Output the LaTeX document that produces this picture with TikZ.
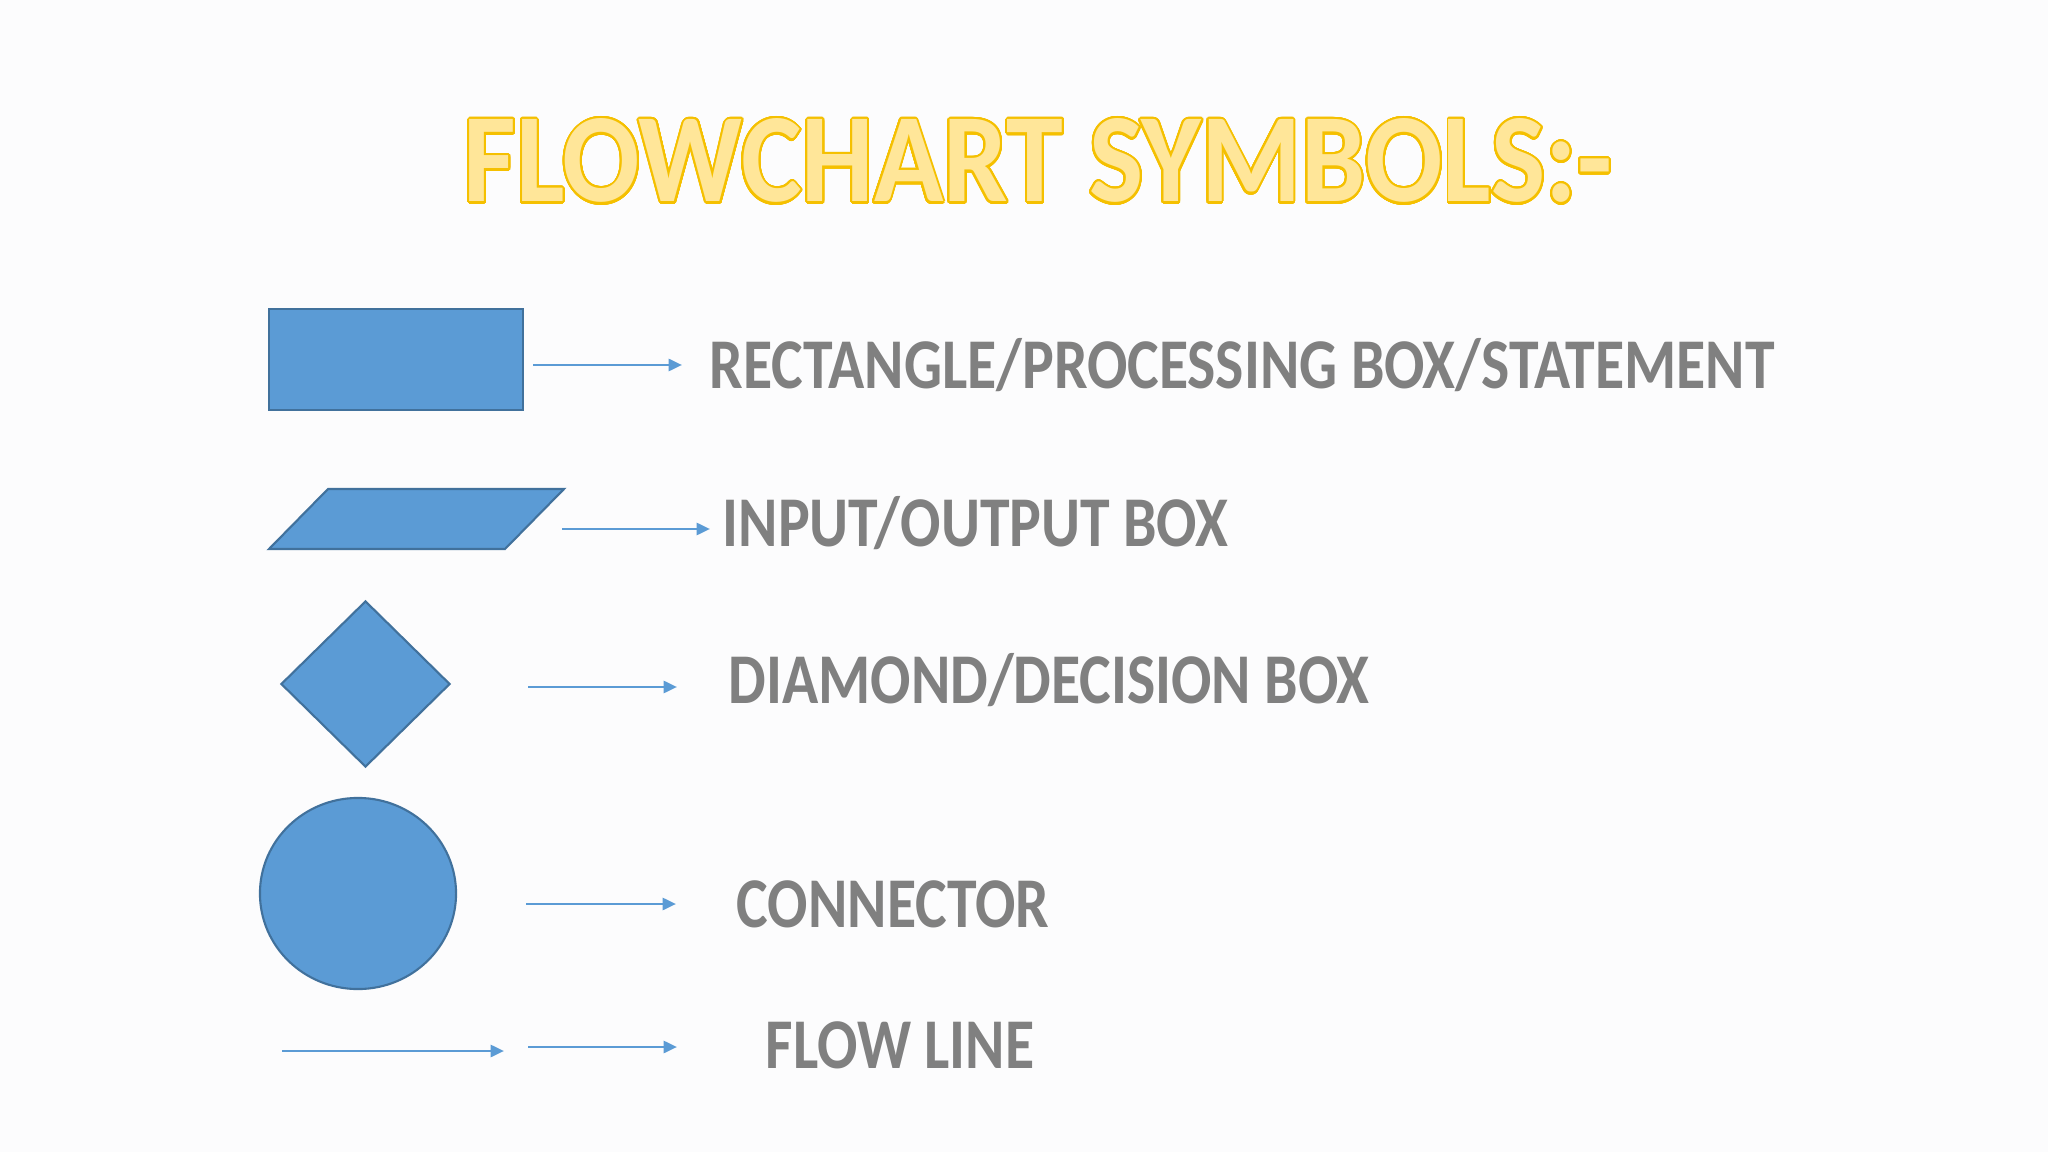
\documentclass[tikz,border=0pt]{standalone}
\usepackage{fontspec}
\setmainfont{Carlito}
\usepackage{contour}
\usetikzlibrary{shapes.geometric,arrows.meta}
\definecolor{boxblue}{HTML}{5B9BD5}
\definecolor{boxedge}{HTML}{41719C}
\definecolor{labelgray}{HTML}{808080}
\definecolor{titlefill}{HTML}{FFE699}
\definecolor{titleedge}{HTML}{F5C000}
\definecolor{paper}{HTML}{FCFCFD}
\contourlength{0.6pt}
\newcommand{\squeeze}[2]{\scalebox{#1}[1]{#2}}

\begin{document}
\begin{tikzpicture}[x=0.01cm,y=-0.01cm,>={Triangle[length=3.8pt,width=3.4pt]},
                    symbol/.style={draw=boxedge,fill=boxblue,line width=0.6pt,inner sep=0pt},
                    flow/.style={->,draw=boxblue,line width=0.8pt},
                    label/.style={anchor=base west,inner sep=0pt,text=labelgray,
                                  font=\fontsize{20.3}{24}\selectfont\bfseries}]
\fill[paper] (0,0) rectangle (2048,1152);
\useasboundingbox (0,0) rectangle (2048,1152);

% title
\node[anchor=base west,inner sep=0pt,font=\fontsize{36}{40}\selectfont\bfseries] (title) at (463,202)
  {\squeeze{0.905}{\contour[48]{titleedge}{\textcolor{titlefill}{FLOWCHART SYMBOLS:-}}}};

% symbols
\node[symbol,rectangle,minimum width=2.54cm,minimum height=1.01cm] (1) at (396,359.5) {};
\coordinate (2) at (416.5,519);
\draw[symbol] ([shift={(-147.5,30)}]2) -- ++(236,0) -- ++(59,-60) -- ++(-236,0) -- cycle;
\node[symbol,diamond,minimum width=1.69cm,minimum height=1.66cm] (3) at (365.5,684) {};
\node[symbol,ellipse,minimum width=1.96cm,minimum height=1.91cm] (4) at (358,893.5) {};
\coordinate (5s) at (282,1051);
\coordinate (5e) at (504,1051);

% labels
\node[label] (t1) at (709,389) {\squeeze{0.837}{RECTANGLE/PROCESSING BOX/STATEMENT}};
\node[label] (t2) at (722,547) {\squeeze{0.837}{INPUT/OUTPUT BOX}};
\node[label] (t3) at (728,703) {\squeeze{0.837}{DIAMOND/DECISION BOX}};
\node[label] (t4) at (736,927) {\squeeze{0.837}{CONNECTOR}};
\node[label] (t5) at (765,1068) {\squeeze{0.837}{FLOW LINE}};

% arrow ends
\coordinate (a1) at (533,365);  \coordinate (b1) at (682,365);
\coordinate (a2) at (562,529);  \coordinate (b2) at (710,529);
\coordinate (a3) at (528,687);  \coordinate (b3) at (677,687);
\coordinate (a4) at (526,904);  \coordinate (b4) at (676,904);
\coordinate (a5) at (528,1047); \coordinate (b5) at (677,1047);

\path
  (a1) edge [flow] (b1)
  (a2) edge [flow] (b2)
  (a3) edge [flow] (b3)
  (a4) edge [flow] (b4)
  (a5) edge [flow] (b5)
  (5s) edge [flow] (5e);
\end{tikzpicture}
\end{document}
